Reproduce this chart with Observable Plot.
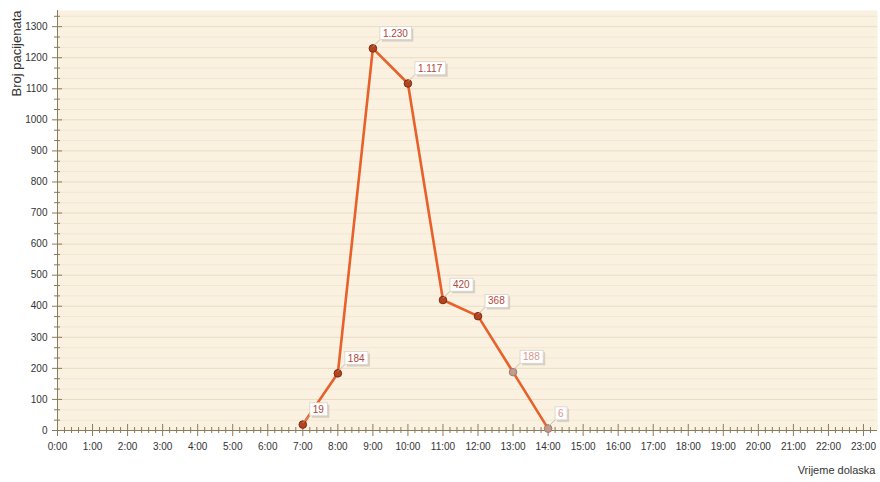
<!DOCTYPE html>
<html>
<head>
<meta charset="utf-8">
<script src="https://cdn.jsdelivr.net/npm/d3@7"></script>
<script src="https://cdn.jsdelivr.net/npm/@observablehq/plot@0.6"></script>
<style>
  html, body { margin: 0; padding: 0; background: #fff; }
  svg { font-family: "Liberation Sans", Arial, sans-serif; }
</style>
</head>
<body>
<div id="chart"></div>
<script>
// Data
const hours = [7, 8, 9, 10, 11, 12, 13, 14];
const patients = [19, 184, 1230, 1117, 420, 368, 188, 6];
const valueLabels = ["19", "184", "1.230", "1.117", "420", "368", "188", "6"];
const xTickHours = d3.range(0, 24);
const xTickLabels = xTickHours.map(h => h + ":00");
const yTicks = d3.range(0, 1301, 100);
const yLabel = "Broj pacijenata";
const xLabel = "Vrijeme dolaska";

const data = hours.map((h, i) => ({hour: h, value: patients[i], label: valueLabels[i]}));
const xMinor = d3.range(0, 23.4, 0.2).filter(v => Math.abs(v - Math.round(v)) > 1e-6);
const yMinor = d3.range(0, 1350, 100 / 3).filter(v => Math.abs(v / 100 - Math.round(v / 100)) > 1e-6);

const axisColor = "#8c7b5c";
const fade = d => d.hour >= 13;

const chart = Plot.plot({
  width: 880,
  height: 482,
  marginLeft: 57,
  marginRight: 3,
  marginTop: 10,
  marginBottom: 52,
  style: {fontFamily: "Liberation Sans, Arial, sans-serif", fontSize: "10px", color: "#333", background: "#fff"},
  x: {domain: [0, 23.4]},
  y: {domain: [0, 1352]},
  marks: [
    Plot.frame({fill: "#faf1e1", stroke: "none"}),
    Plot.gridY(yMinor, {stroke: "#f3e7d2", strokeOpacity: 1}),
    Plot.gridY(yTicks, {stroke: "#eadcc2", strokeOpacity: 1}),
    // axis lines
    Plot.ruleY([0], {stroke: axisColor}),
    Plot.ruleX([0], {stroke: axisColor}),
    // x axis: major cross ticks + labels
    Plot.axisX({ticks: xTickHours, tickSize: 6, tickPadding: 6, stroke: axisColor, color: "#333",
      tickFormat: (d) => xTickLabels[xTickHours.indexOf(d)], label: null}),
    Plot.axisX({ticks: xTickHours, tickSize: -6, text: null, stroke: axisColor, label: null}),
    Plot.axisX({ticks: xMinor, tickSize: 3, text: null, stroke: axisColor, label: null}),
    Plot.axisX({ticks: xMinor, tickSize: -3, text: null, stroke: axisColor, label: null}),
    // y axis
    Plot.axisY({ticks: yTicks, tickSize: 5, tickPadding: 5, stroke: axisColor, color: "#333",
      tickFormat: d => String(d), label: null}),
    Plot.axisY({ticks: yTicks, tickSize: -5, text: null, stroke: axisColor, label: null}),
    Plot.axisY({ticks: yMinor, tickSize: 3, text: null, stroke: axisColor, label: null}),
    Plot.axisY({ticks: yMinor, tickSize: -3, text: null, stroke: axisColor, label: null}),
    // series
    Plot.line(data, {x: "hour", y: "value", stroke: "#e8602a", strokeWidth: 2.6}),
    Plot.dot(data, {x: "hour", y: "value", r: 3.8,
      fill: d => fade(d) ? "#c49a8c" : "#b4431f",
      stroke: d => fade(d) ? "#9a7a70" : "#7d2c12", strokeWidth: 1}),
    Plot.text(data, {x: "hour", y: "value", text: "label", dx: 10, dy: -15,
      textAnchor: "start", fontSize: 10,
      fill: d => fade(d) ? "#d8948c" : "#b0483a"}),
    // axis titles
    Plot.text([yLabel], {frameAnchor: "top-left", text: d => d, rotate: -90, textAnchor: "end",
      dx: -46, dy: 0, fontSize: 13, fill: "#333"}),
    Plot.text([xLabel], {frameAnchor: "bottom-right", text: d => d, textAnchor: "end",
      dx: -2, dy: 43, fontSize: 11, fill: "#333"})
  ]
});

document.getElementById("chart").appendChild(chart);

// decorate the value labels with white callout boxes and leader lines
const ns = "http://www.w3.org/2000/svg";
const g = Array.from(chart.querySelectorAll("g")).find(gr =>
  gr.querySelectorAll(":scope > text").length === valueLabels.length &&
  Array.from(gr.querySelectorAll(":scope > text")).some(t => t.textContent === "1.230"));
if (g) {
  const texts = Array.from(g.querySelectorAll(":scope > text"));
  texts.forEach((t) => {
    const b = t.getBBox();
    const tr = t.getAttribute("transform");
    const padX = 3, padY = 1;
    const mk = (tag, attrs) => { const e = document.createElementNS(ns, tag); for (const k in attrs) e.setAttribute(k, attrs[k]); if (tr) e.setAttribute("transform", tr); return e; };
    const x0 = b.x - padX, y0 = b.y - padY;
    const shadow = mk("rect", {x: x0 + 2, y: y0 + 2, width: b.width + 2 * padX, height: b.height + 2 * padY, fill: "#c9c0b4", "fill-opacity": 0.7});
    const box = mk("rect", {x: x0, y: y0, width: b.width + 2 * padX, height: b.height + 2 * padY, fill: "#fff", stroke: "#d9d2c8", "stroke-width": 0.8});
    const lead = mk("line", {x1: x0 - 7, y1: y0 + b.height + 2 * padY + 7, x2: x0, y2: y0 + b.height + 2 * padY, stroke: "#b9b0a6", "stroke-width": 0.8});
    g.insertBefore(lead, t);
    g.insertBefore(shadow, t);
    g.insertBefore(box, t);
  });
}
</script>
</body>
</html>
